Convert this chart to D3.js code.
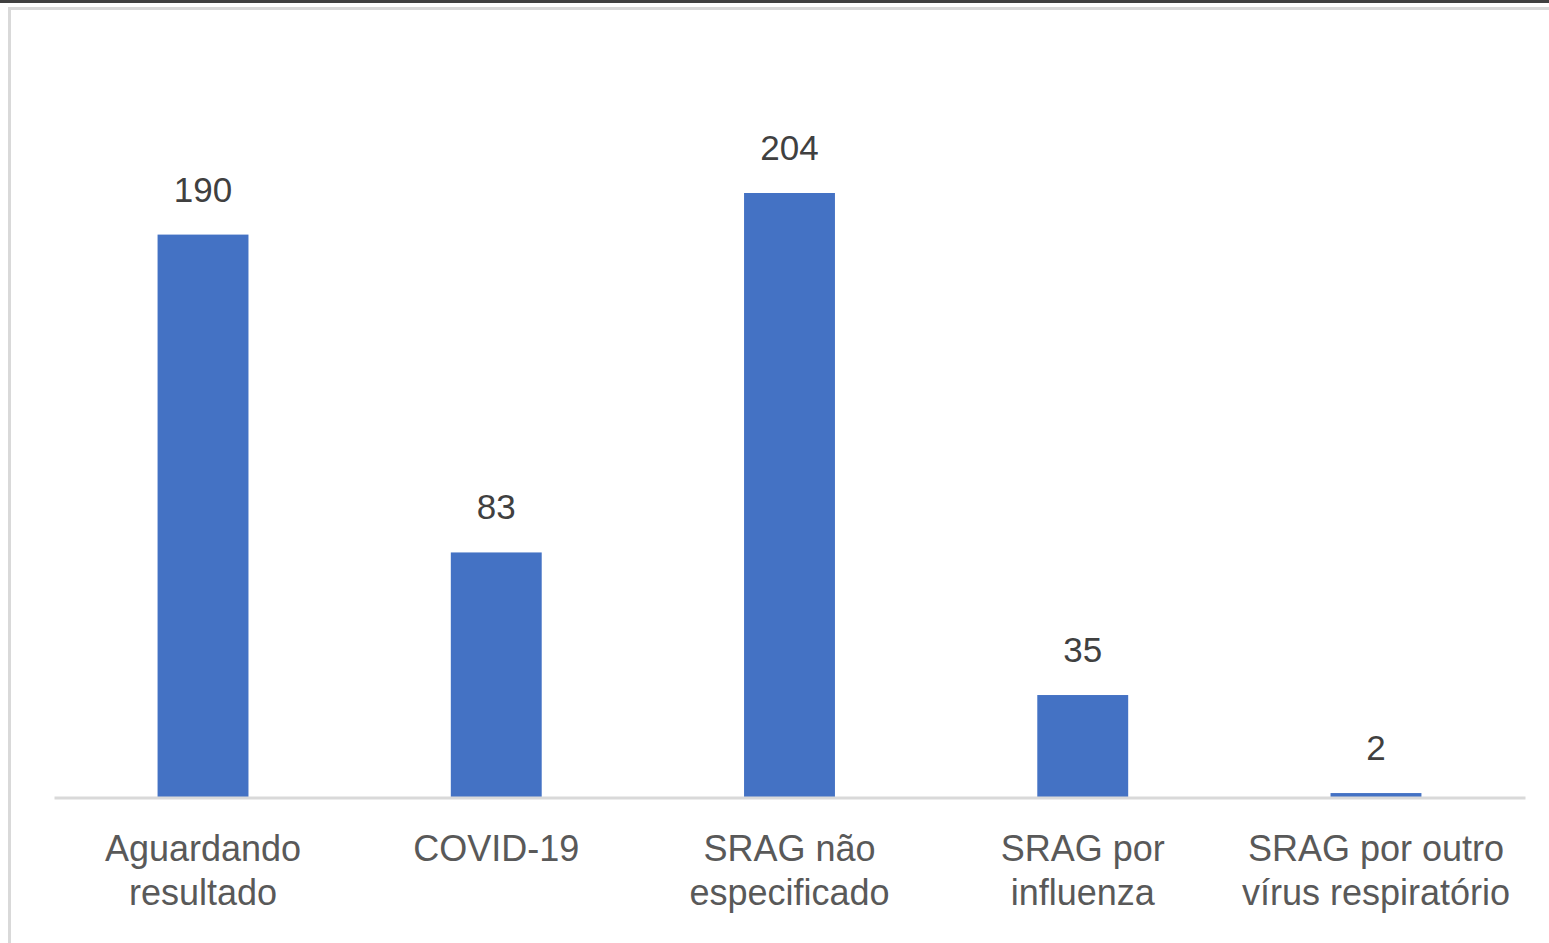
<!DOCTYPE html>
<html>
<head>
<meta charset="utf-8">
<script src="https://cdn.jsdelivr.net/npm/d3@7"></script>
<style>
  html, body { margin: 0; padding: 0; background: #fff; overflow: hidden; }
</style>
</head>
<body>
<svg id="chart"></svg>
<script>
// chart data
const categories = [
  "Aguardando\nresultado",
  "COVID-19",
  "SRAG não\nespecificado",
  "SRAG por\ninfluenza",
  "SRAG por outro\nvírus respiratório"
];
const values = [190, 83, 204, 35, 2];

const width = 1549;
const height = 943;
const fontFamily = "'Liberation Sans', Arial, sans-serif";
const textColor = "#595959";

const svg = d3.select("#chart")
  .attr("width", width)
  .attr("height", height);

// frame: dark strip on top and light chart border
svg.append("rect")
  .attr("x", 0).attr("y", 0)
  .attr("width", width).attr("height", 3)
  .attr("fill", "#404040");
svg.append("rect")
  .attr("x", 8).attr("y", 7)
  .attr("width", width).attr("height", 3)
  .attr("fill", "#d9d9d9");
svg.append("rect")
  .attr("x", 8).attr("y", 7)
  .attr("width", 3).attr("height", height)
  .attr("fill", "#d9d9d9");

// scales
const baseline = 799;
const xScale = d3.scaleBand()
  .domain(categories)
  .range([56.4, 1522.6])
  .paddingInner(0.69)
  .paddingOuter(0.345);

// axis line spans the full plot area
const xAxisScale = d3.scaleBand()
  .domain(categories)
  .range([54, 1525]);

const yScale = d3.scaleLinear()
  .domain([0, 204])
  .range([baseline, 193]);

// bars
svg.selectAll(".bar")
  .data(values)
  .enter()
  .append("rect")
  .attr("class", "bar")
  .attr("x", (d, i) => xScale(categories[i]))
  .attr("y", d => yScale(d))
  .attr("width", xScale.bandwidth())
  .attr("height", d => baseline - yScale(d))
  .attr("fill", "#4472C4");

// x axis line (drawn over the bar bottoms)
const xAxis = d3.axisBottom(xAxisScale).tickSize(0).tickFormat("");
const axisG = svg.append("g")
  .attr("transform", `translate(0, ${baseline - 1.5})`)
  .call(xAxis);
axisG.select("path.domain")
  .attr("stroke", "#d9d9d9")
  .attr("stroke-width", 3);

// value labels
svg.selectAll(".value-label")
  .data(values)
  .enter()
  .append("text")
  .attr("class", "value-label")
  .attr("x", (d, i) => xScale(categories[i]) + xScale.bandwidth() / 2)
  .attr("y", d => yScale(d) - 33)
  .attr("text-anchor", "middle")
  .style("font-family", fontFamily)
  .style("font-size", "35px")
  .style("fill", "#404040")
  .text(d => d);

// category labels (wrapped)
const catLabels = svg.selectAll(".cat-label")
  .data(categories)
  .enter()
  .append("text")
  .attr("class", "cat-label")
  .attr("x", d => xScale(d) + xScale.bandwidth() / 2)
  .attr("y", 861)
  .attr("text-anchor", "middle")
  .style("font-family", fontFamily)
  .style("font-size", "36px")
  .style("fill", textColor);

catLabels.each(function (d) {
  const el = d3.select(this);
  d.split("\n").forEach((line, i) => {
    el.append("tspan")
      .attr("x", xScale(d) + xScale.bandwidth() / 2)
      .attr("dy", i === 0 ? 0 : 44)
      .text(line);
  });
});
</script>
</body>
</html>
